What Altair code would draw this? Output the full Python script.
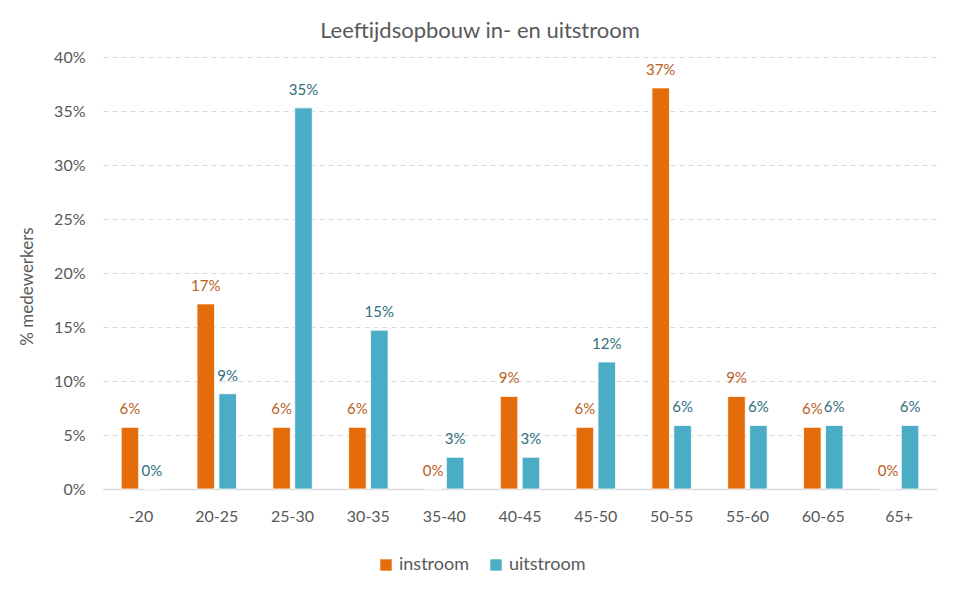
import altair as alt
import pandas as pd

categories = ["-20", "20-25", "25-30", "30-35", "35-40", "40-45", "45-50", "50-55", "55-60", "60-65", "65+"]
instroom = [0.0571, 0.1714, 0.0571, 0.0571, 0.0, 0.0857, 0.0571, 0.3714, 0.0857, 0.0571, 0.0]
uitstroom = [0.0, 0.0882, 0.3529, 0.1471, 0.0294, 0.0294, 0.1176, 0.0588, 0.0588, 0.0588, 0.0588]
series = ["instroom", "uitstroom"]
bar_colors = ["#E46C0A", "#4BACC6"]
text_colors = ["#B9601F", "#2F6F80"]

rows = []
for i, c in enumerate(categories):
    rows.append({"cat": c, "serie": "instroom", "v": instroom[i]})
    rows.append({"cat": c, "serie": "uitstroom", "v": uitstroom[i]})
df = pd.DataFrame(rows)

FONT = "Lato"
GREY = "#595959"

x = alt.X("cat:N", sort=categories, title=None,
          scale=alt.Scale(paddingInner=0.48, paddingOuter=0.24),
          axis=alt.Axis(labelAngle=0, labelFontSize=16, labelColor=GREY, labelFont=FONT,
                        ticks=False, labelPadding=19, domainColor="#D9D9D9", domainWidth=1.5))
xo = alt.XOffset("serie:N", sort=series, scale=alt.Scale(paddingInner=0.2, paddingOuter=0))
y = alt.Y("v:Q", title="% medewerkers",
          scale=alt.Scale(domain=[0, 0.4], nice=False),
          axis=alt.Axis(format=".0%", values=[0, 0.05, 0.1, 0.15, 0.2, 0.25, 0.3, 0.35, 0.4],
                        labelFontSize=16, labelColor=GREY, labelFont=FONT, ticks=False,
                        domain=False, labelPadding=18, gridDash=[5, 4], gridColor="#D9D9D9",
                        gridWidth=1, titleFontSize=17, titleFontWeight="normal",
                        titleColor=GREY, titleFont=FONT, titleBaseline="middle",
                        titleX=-76, titleY=229))

bars = alt.Chart(df).mark_bar(stroke="white", strokeWidth=0.8).encode(
    x=x, xOffset=xo, y=y,
    color=alt.Color("serie:N", sort=series,
                    scale=alt.Scale(domain=series, range=bar_colors),
                    legend=alt.Legend(title=None, orient="none", direction="horizontal",
                                      legendX=274, legendY=499, symbolType="square",
                                      symbolSize=130, symbolStrokeWidth=0,
                                      labelFontSize=18, labelColor=GREY, labelFont=FONT,
                                      columnPadding=17, labelOffset=4))
)

labels = alt.Chart(df).mark_text(dy=-18, fontSize=15, font=FONT).encode(
    x=x, xOffset=xo, y=y,
    text=alt.Text("v:Q", format=".0%"),
    color=alt.Color("serie:N", sort=series,
                    scale=alt.Scale(domain=series, range=text_colors), legend=None)
)

chart = alt.layer(bars, labels).resolve_scale(color="independent").properties(
    width=834, height=432,
    title=alt.Title("Leeftijdsopbouw in- en uitstroom", fontSize=22, fontWeight="normal",
                    color=GREY, font=FONT, anchor="middle", offset=6, dx=-40),
    autosize=alt.AutoSizeParams(type="none"),
    padding={"left": 95, "top": 49, "right": 9, "bottom": 92}
).configure_view(stroke=None)

chart.save("out.html", embed_options={"renderer": "svg", "actions": False})
